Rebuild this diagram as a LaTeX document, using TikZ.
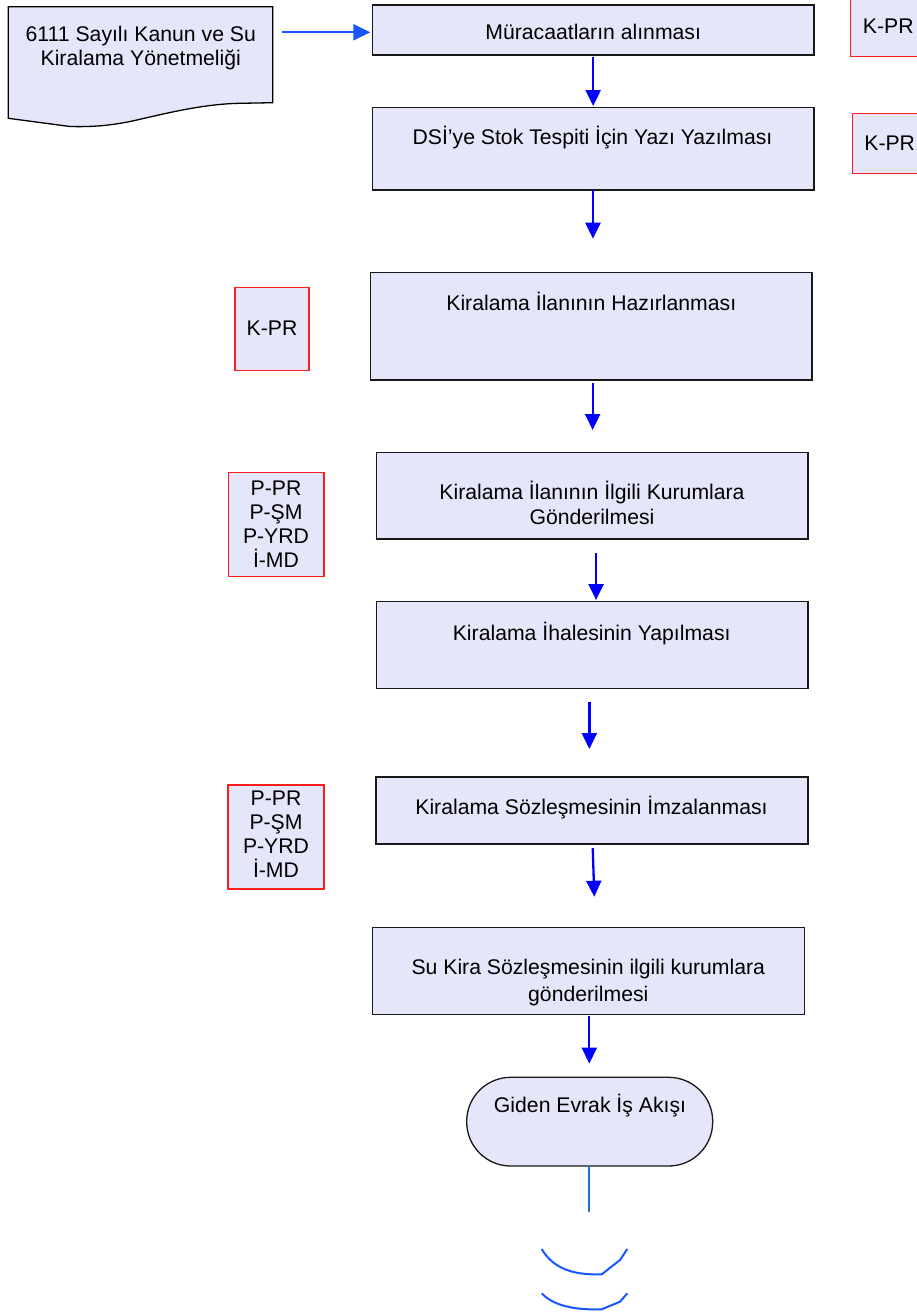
\documentclass[tikz,border=0pt]{standalone}
\usepackage{fontspec}
\setmainfont{Liberation Sans}
\usetikzlibrary{arrows.meta,calc}
\definecolor{boxfill}{RGB}{230,230,250}
\definecolor{arrblue}{RGB}{0,0,255}
\definecolor{lightarr}{RGB}{26,86,255}
\definecolor{linecol}{RGB}{30,115,205}
\definecolor{redline}{RGB}{255,30,30}
\newcommand\mainsize{\fontsize{21.2pt}{24.5pt}\selectfont}
\begin{document}
\begin{tikzpicture}[x=1pt,y=-1pt,
  box/.style={draw=black!90, line width=1.3pt, fill=boxfill, inner sep=0pt, outer sep=0pt},
  redbox/.style={draw=redline, line width=1.2pt, fill=boxfill, inner sep=0pt, outer sep=0pt},
  txt/.style={anchor=base, inner sep=0pt, align=center, font=\mainsize},
  varr/.style={draw=arrblue, line width=2.3pt, -{Triangle[width=15pt,length=16pt]}},
  harr/.style={draw=lightarr, line width=2.3pt, -{Triangle[width=16pt,length=17pt]}},
]
\clip (0,0) rectangle (917,1312);
\fill[white] (0,0) rectangle (917,1312);

% document shape
\node[inner sep=0pt, outer sep=0pt, minimum width=264.4pt, minimum height=120pt] (doc) at (140.5,66.7) {};
\draw[line width=1.3pt, fill=boxfill] (doc.north west) -- (doc.north east) -- (272.7,102.7) -- (240,103.3)
  .. controls (200,104) and (160,115) .. (130,121.5)
  .. controls (108,126) and (90,127) .. (70,126.5) -- (8.3,118.3) -- cycle;
\node[txt] at (140.8,65.9) {6111 Sayılı Kanun ve Su\\Kiralama Yönetmeliği};

% main boxes
\node[box, minimum width=441.7pt, minimum height=50pt] (b1) at (593.15,30) {};
\node[txt] at (593.2,39.9) {Müracaatların alınması};
\node[box, minimum width=441.7pt, minimum height=82.3pt] (b2) at (593.15,148.85) {};
\node[txt] at (592.5,144.6) {DSİ’ye Stok Tespiti İçin Yazı Yazılması};
\node[box, minimum width=441.3pt, minimum height=107.3pt] (b3) at (591.35,326.35) {};
\node[txt] at (591.3,310.3) {Kiralama İlanının Hazırlanması};
\node[box, minimum width=431.3pt, minimum height=86.3pt] (b4) at (592.35,495.85) {};
\node[txt] at (592,524.3) {Kiralama İlanının İlgili Kurumlara\\Gönderilmesi};
\node[box, minimum width=431.3pt, minimum height=87pt] (b5) at (592.35,644.8) {};
\node[txt] at (591.7,640.3) {Kiralama İhalesinin Yapılması};
\node[box, minimum width=432pt, minimum height=67pt] (b6) at (592,810.5) {};
\node[txt] at (591.5,814.9) {Kiralama Sözleşmesinin İmzalanması};
\node[box, minimum width=432pt, minimum height=87pt] (b7) at (588.3,970.8) {};
\node[txt] at (588.3,1001.6) {Su Kira Sözleşmesinin ilgili kurumlara\\[2.5pt]gönderilmesi};
\node[box, minimum width=246pt, minimum height=88.7pt, rounded corners=44pt] (term) at (589.7,1121.65) {};
\node[txt] at (590,1112.6) {Giden Evrak İş Akışı};

% red boxes
\node[redbox, minimum width=74pt, minimum height=60pt] (r1) at (887.7,26.7) {};
\node[txt] at (888.3,33.6) {K-PR};
\node[redbox, minimum width=74pt, minimum height=60pt] (r2) at (889.3,143.3) {};
\node[txt] at (889.7,150.9) {K-PR};
\node[redbox, minimum width=74pt, minimum height=83.4pt] (kl) at (272,329) {};
\node[txt] at (272,335.3) {K-PR};
\node[redbox, minimum width=95.7pt, minimum height=104.4pt] (p1) at (276.15,524.5) {};
\node[txt, font=\fontsize{21.2pt}{24pt}\selectfont] at (276,567.6) {P-PR\\P-ŞM\\P-YRD\\İ-MD};
\node[redbox, minimum width=96pt, minimum height=104pt] (p2) at (276,837) {};
\node[txt, font=\fontsize{21.2pt}{24pt}\selectfont] at (276,877.6) {P-PR\\P-ŞM\\P-YRD\\İ-MD};

% connectors
\draw[harr, shorten <=9pt, shorten >=2pt] ($(doc.east |- b1.west)+(0,2.3)$) -- ($(b1.west)+(0,2.3)$);
\draw[varr, shorten <=2pt, shorten >=1.7pt] (b1.south) -- (b1.south |- b2.north);
\draw[varr, shorten <=0pt, shorten >=34pt] ($(b2.south)+(-0.2,0)$) -- ($(b2.south |- b3.north)+(-0.2,0)$);
\draw[varr, shorten <=3pt, shorten >=22.7pt] ($(b3.south)+(1.3,0)$) -- ($(b3.south |- b4.north)+(1.3,0)$);
\draw[varr, shorten <=14pt, shorten >=1.3pt] ($(b4.south)+(3.7,0)$) -- ($(b4.south |- b5.north)+(3.7,0)$);
\draw[varr, shorten <=13.4pt, shorten >=28pt] ($(b5.south)+(-3,0)$) -- ($(b5.south |- b6.north)+(-3,0)$);
\draw[varr, shorten <=4pt, shorten >=30.6pt] ($(b6.south)+(0.6,0)$) -- ($(b7.north)+(7,0)$);
\draw[varr, shorten <=1.7pt, shorten >=13.7pt] ($(b7.south)+(1,0)$) -- ($(b7.south |- term.north)+(1,0)$);
\coordinate (lend) at (589.3,1211.7);
\draw[draw=linecol, line width=1.8pt] (term.south -| lend) -- (lend);

% off-page connector arcs
\draw[lightarr, line width=2pt] (541.7,1249) .. controls (555,1272) and (580,1275) .. (601.7,1274.3) -- (620,1260) -- (627.3,1249);
\draw[lightarr, line width=2pt] (541.7,1293.3) .. controls (555,1307.5) and (580,1310) .. (601.7,1309.3) -- (620,1301.7) -- (627.3,1293.3);
\end{tikzpicture}
\end{document}
